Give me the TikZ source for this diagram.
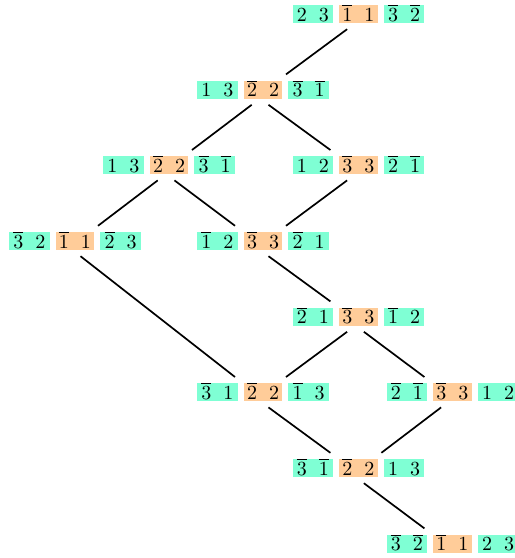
\documentclass[tikz,border=0pt]{standalone}
\definecolor{boxgreen}{RGB}{127,255,212}
\definecolor{boxorange}{RGB}{255,204,153}
\tikzset{
  cell/.style={inner sep=0pt, minimum height=9pt,
    text height=8pt, text depth=1pt, align=center},
  gcell/.style={cell, minimum width=20.2pt, fill=boxgreen},
  ocell/.style={cell, minimum width=19.2pt, fill=boxorange},
  hasse/.style={draw=black, line width=0.85pt}
}
\newcommand\ob[1]{\overline{#1}}
\newcommand\dgap{\kern6pt}
\newcommand\permnode[5]{%
  \node[ocell] (#1) at (#2) {$#4$};
  \node[gcell] (#1a) at ([xshift=-22.8pt]#1.center) {$#3$};
  \node[gcell] (#1c) at ([xshift=22.8pt]#1.center) {$#5$};
}
\newcommand\edgeDL[2]{\draw[hasse] ([xshift=-5.65pt,yshift=-2.9pt]#1.south) -- ([xshift=11.5pt,yshift=2.9pt]#2.north);}
\newcommand\edgeDR[2]{\draw[hasse] ([xshift=2.75pt,yshift=-2.9pt]#1.south) -- ([xshift=-14pt,yshift=2.9pt]#2.north);}
\begin{document}
\begin{tikzpicture}[x=1pt,y=1pt]
\useasboundingbox (0,0) rectangle (257.5,-279);
\def\ca{37.5}\def\cb{84.5}\def\cc{131.5}\def\cd{179.2}\def\ce{226.2}
\permnode{n1}{\cd,-7.0}{2\dgap 3}{\ob{1}\dgap 1}{\ob{3}\dgap\ob{2}}
\permnode{n2}{\cc,-44.8}{1\dgap 3}{\ob{2}\dgap 2}{\ob{3}\dgap\ob{1}}
\permnode{n3}{\cb,-82.6}{1\dgap 3}{\ob{2}\dgap 2}{\ob{3}\dgap\ob{1}}
\permnode{n4}{\cd,-82.6}{1\dgap 2}{\ob{3}\dgap 3}{\ob{2}\dgap\ob{1}}
\permnode{n5}{\ca,-120.5}{\ob{3}\dgap 2}{\ob{1}\dgap 1}{\ob{2}\dgap 3}
\permnode{n6}{\cc,-120.5}{\ob{1}\dgap 2}{\ob{3}\dgap 3}{\ob{2}\dgap 1}
\permnode{n7}{\cd,-158.3}{\ob{2}\dgap 1}{\ob{3}\dgap 3}{\ob{1}\dgap 2}
\permnode{n8}{\cc,-196.1}{\ob{3}\dgap 1}{\ob{2}\dgap 2}{\ob{1}\dgap 3}
\permnode{n9}{\ce,-196.1}{\ob{2}\dgap\ob{1}}{\ob{3}\dgap 3}{1\dgap 2}
\permnode{n10}{\cd,-234.0}{\ob{3}\dgap\ob{1}}{\ob{2}\dgap 2}{1\dgap 3}
\permnode{n11}{\ce,-271.8}{\ob{3}\dgap\ob{2}}{\ob{1}\dgap 1}{2\dgap 3}
\edgeDL{n1}{n2}
\edgeDL{n2}{n3}
\edgeDR{n2}{n4}
\edgeDL{n3}{n5}
\edgeDR{n3}{n6}
\edgeDL{n4}{n6}
\edgeDR{n5}{n8}
\edgeDR{n6}{n7}
\edgeDL{n7}{n8}
\edgeDR{n7}{n9}
\edgeDR{n8}{n10}
\edgeDL{n9}{n10}
\edgeDR{n10}{n11}
\end{tikzpicture}
\end{document}
